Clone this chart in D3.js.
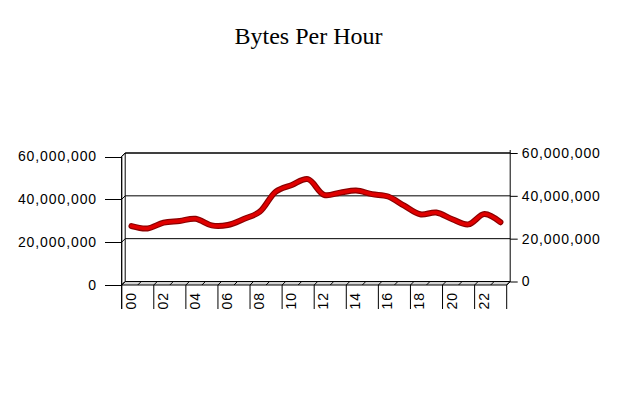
<!DOCTYPE html>
<html>
<head>
<meta charset="utf-8">
<script src="https://cdn.jsdelivr.net/npm/d3@7/dist/d3.min.js"></script>
<style>
  html, body { margin: 0; padding: 0; background: #fff; }
  svg { display: block; }
</style>
</head>
<body>
<svg id="chart" width="620" height="400"></svg>
<script>
// ---- data ----
const hours = ["00","01","02","03","04","05","06","07","08","09","10","11",
               "12","13","14","15","16","17","18","19","20","21","22","23"];
const bytes = [26.7e6, 25.6e6, 28.3e6, 29.1e6, 30.1e6, 27.0e6, 27.2e6, 30.0e6,
               33.4e6, 42.8e6, 45.9e6, 48.6e6, 41.3e6, 42.3e6, 43.3e6, 41.6e6,
               40.5e6, 36.2e6, 32.2e6, 33.0e6, 29.9e6, 27.5e6, 32.3e6, 28.5e6];
const yTicks = [0, 20e6, 40e6, 60e6];
const xTickLabels = ["00","02","04","06","08","10","12","14","16","18","20","22"];
const title = "Bytes Per Hour";

// ---- layout ----
const svg = d3.select("#chart");
const DX = 3.5, DY = -3.5;           // 3D depth offset (front -> back)
const x = d3.scaleBand().domain(hours).range([121.7, 506.7]).padding(0);
const y = d3.scaleLinear().domain([0, 60e6]).range([285, 156.5]);   // front plane
const bx = v => v + DX, by = v => v + DY;                             // back plane
const fmt = d3.format(",");
const labelFont = "'Liberation Sans', Arial, sans-serif";

// title
svg.append("text")
  .attr("x", 308.5).attr("y", 44)
  .attr("text-anchor", "middle")
  .attr("font-family", "'Liberation Serif', 'Times New Roman', serif")
  .attr("font-size", 24)
  .attr("fill", "#000")
  .text(title);

const x0 = x.range()[0], x1 = x.range()[1];
const yTop = y(60e6), yBot = y(0);

// back wall
svg.append("rect")
  .attr("x", bx(x0)).attr("y", by(yTop))
  .attr("width", x1 - x0).attr("height", yBot - yTop)
  .attr("fill", "#fff").attr("stroke", "none");

// side wall (left)
svg.append("path")
  .attr("d", `M${x0},${yTop} L${bx(x0)},${by(yTop)} L${bx(x0)},${by(yBot)} L${x0},${yBot} Z`)
  .attr("fill", "#fff").attr("stroke", "#000").attr("stroke-width", 1);

// gridlines on back wall + on side wall
yTicks.filter(v => v > 0).forEach(v => {
  svg.append("line")
    .attr("x1", bx(x0)).attr("x2", bx(x1))
    .attr("y1", by(y(v))).attr("y2", by(y(v)))
    .attr("stroke", "#000").attr("stroke-width", 1);
  svg.append("line")
    .attr("x1", x0).attr("x2", bx(x0))
    .attr("y1", y(v)).attr("y2", by(y(v)))
    .attr("stroke", "#000").attr("stroke-width", 1);
});

// floor
svg.append("path")
  .attr("d", `M${x0},${yBot} L${x1},${yBot} L${bx(x1)},${by(yBot)} L${bx(x0)},${by(yBot)} Z`)
  .attr("fill", "#d4d4d4").attr("stroke", "#000").attr("stroke-width", 1);
svg.append("g").selectAll("line")
  .data(d3.range(0, hours.length + 1))
  .join("line")
  .attr("x1", i => x0 + i * x.bandwidth()).attr("y1", yBot)
  .attr("x2", i => bx(x0 + i * x.bandwidth())).attr("y2", by(yBot))
  .attr("stroke", "#000").attr("stroke-width", 1);

// left axis (front)
const leftAxis = d3.axisLeft(y).tickValues(yTicks).tickFormat(fmt).tickSize(16.7).tickPadding(8);
const gl = svg.append("g").attr("transform", `translate(${x0},0)`).call(leftAxis);
gl.select(".domain").remove();
gl.selectAll("line").attr("stroke", "#000").attr("shape-rendering", "crispEdges");
gl.selectAll("text")
  .attr("font-family", labelFont).attr("font-size", 14)
  .attr("letter-spacing", "0.9px")
  .attr("fill", "#000");
svg.append("line")
  .attr("x1", x0).attr("x2", x0).attr("y1", yTop).attr("y2", 309)
  .attr("stroke", "#000").attr("stroke-width", 1);

// right axis (back)
const yBack = y.copy().range([by(285), by(156.5)]);
const rightAxis = d3.axisRight(yBack).tickValues(yTicks).tickFormat(fmt).tickSize(7.5).tickPadding(4);
const gr = svg.append("g").attr("transform", `translate(${bx(x1)},0)`).call(rightAxis);
gr.select(".domain").remove();
gr.selectAll("line").attr("stroke", "#000");
gr.selectAll("text")
  .attr("font-family", labelFont).attr("font-size", 14)
  .attr("letter-spacing", "0.9px")
  .attr("fill", "#000");
svg.append("line")
  .attr("x1", bx(x1)).attr("x2", bx(x1)).attr("y1", by(yTop) - 3).attr("y2", by(yBot))
  .attr("stroke", "#000").attr("stroke-width", 1);
// top border of back wall
svg.append("line")
  .attr("x1", bx(x0)).attr("x2", bx(x1)).attr("y1", by(yTop)).attr("y2", by(yTop))
  .attr("stroke", "#000").attr("stroke-width", 1);

// category ticks and labels
const catTicks = xTickLabels.map(h => x(h));
svg.append("g").selectAll("line")
  .data(catTicks.concat([x1]))
  .join("line")
  .attr("x1", d => d).attr("x2", d => d)
  .attr("y1", yBot).attr("y2", 309)
  .attr("stroke", "#000").attr("stroke-width", 1);
svg.append("g").selectAll("text")
  .data(xTickLabels)
  .join("text")
  .attr("transform", h => `translate(${x(h) + 14},${292}) rotate(-90)`)
  .attr("text-anchor", "end")
  .attr("font-family", labelFont).attr("font-size", 14)
  .attr("letter-spacing", "0.9px")
  .attr("fill", "#000")
  .text(h => h);

// data line (mid-depth)
const line = d3.line()
  .x((d, i) => x(hours[i]) + x.bandwidth() / 2 + DX / 2)
  .y(d => y(d) + DY / 2)
  .curve(d3.curveCatmullRom.alpha(0.5));
svg.append("path").datum(bytes)
  .attr("d", line).attr("fill", "none")
  .attr("stroke", "#8a0000").attr("stroke-width", 6)
  .attr("stroke-linecap", "round").attr("stroke-linejoin", "round");
svg.append("path").datum(bytes)
  .attr("d", line).attr("fill", "none")
  .attr("stroke", "#e00000").attr("stroke-width", 3.6)
  .attr("stroke-linecap", "round").attr("stroke-linejoin", "round");
</script>
</body>
</html>
